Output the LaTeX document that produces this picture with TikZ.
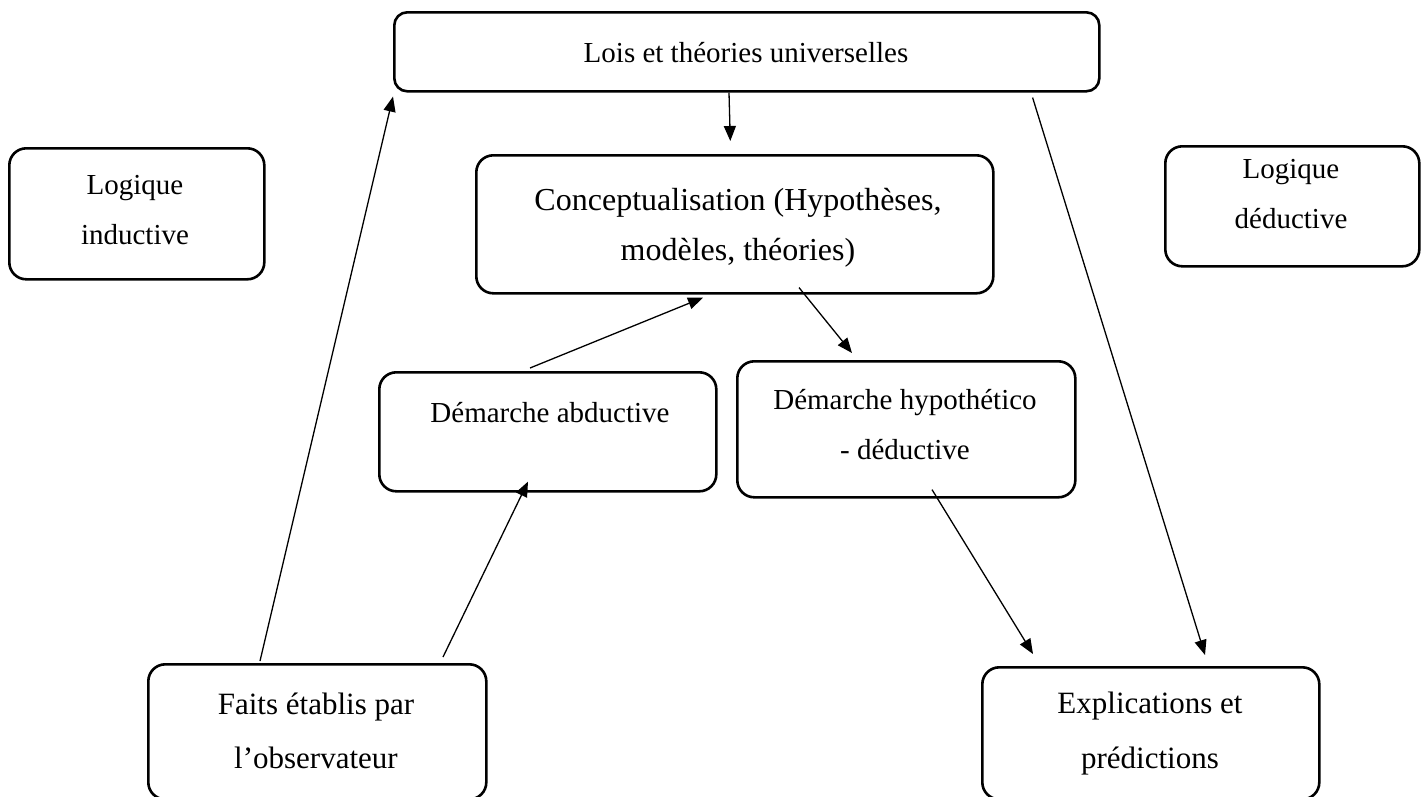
\documentclass[tikz,border=0pt]{standalone}
\usepackage{fontspec}
\setmainfont{Liberation Serif}
\usetikzlibrary{arrows.meta,calc}

\begin{document}
\begin{tikzpicture}[x=1pt,y=1pt,yscale=-1,
    box/.style={draw, line width=2.6pt, rounded corners=17pt, anchor=north west, inner sep=0pt},
    lbl/.style={align=center, inner sep=0pt, font=\fontsize{29}{50}\selectfont},
    conn/.style={line width=1.3pt, -{Triangle[length=15pt,width=12pt]}}]
    \clip (0,0) rectangle (1424,796); % page of 1424 x 796

    % Boxes
    \node[box, minimum width=705pt, minimum height=79pt, rounded corners=13pt] (lois) at (393,11) {};
    \node[box, minimum width=255pt, minimum height=131pt] (inductive) at (8,147) {};
    \node[box, minimum width=254pt, minimum height=120pt] (deductive) at (1164,145) {};
    \node[box, minimum width=517pt, minimum height=138pt] (concept) at (475,154) {};
    \node[box, minimum width=337pt, minimum height=119pt] (abductive) at (378,371) {};
    \node[box, minimum width=338pt, minimum height=136pt] (hypo) at (736,360) {};
    \node[box, minimum width=338pt, minimum height=135pt] (faits) at (147,663) {};
    \node[box, minimum width=337pt, minimum height=132pt] (explic) at (981,666) {};

    % Texts
    \node[lbl] (loistxt) at (746,53) {Lois et théories universelles};
    \node[lbl] (inductivetxt) at (135,210) {Logique\\inductive};
    \node[lbl] (deductivetxt) at (1291,194) {Logique\\déductive};
    \node[lbl, font=\fontsize{32}{50}\selectfont] (concepttxt) at (738,228) {Conceptualisation (Hypothèses,\\modèles, théories)};
    \node[lbl] (abductivetxt) at (550,413) {Démarche abductive};
    \node[lbl] (hypotxt) at (905,425) {Démarche hypothético\\- déductive};
    \node[lbl, font=\fontsize{31}{54}\selectfont] (faitstxt) at (316,731) {Faits établis par\\l’observateur};
    \node[lbl, font=\fontsize{31}{55}\selectfont] (explictxt) at (1150,734) {Explications et\\prédictions};

    % Arrows
    \draw[conn] ($(faits.north west)+(113,-2)$) -- ($(lois.south west)+(0,4)$); % induction
    \draw[conn] ($(lois.south west)+(336,0)$) -- ($(concept.north)+(-4.5,-13)$);
    \draw[conn] ($(lois.south east)+(-68,5)$) -- ($(explic.north west)+(224,-11)$); % deduction
    \draw[conn] ($(abductive.north west)+(152,-3)$) -- ($(concept.south west)+(228,3)$);
    \draw[conn] ($(concept.south west)+(324,-7)$) -- ($(hypo.north west)+(116,-7)$);
    \draw[conn] ($(faits.north west)+(296,-6)$) -- ($(abductive.south west)+(150,-11)$);
    \draw[conn] ($(hypo.south west)+(196,-9)$) -- ($(explic.north west)+(52,-12)$);
\end{tikzpicture}
\end{document}
